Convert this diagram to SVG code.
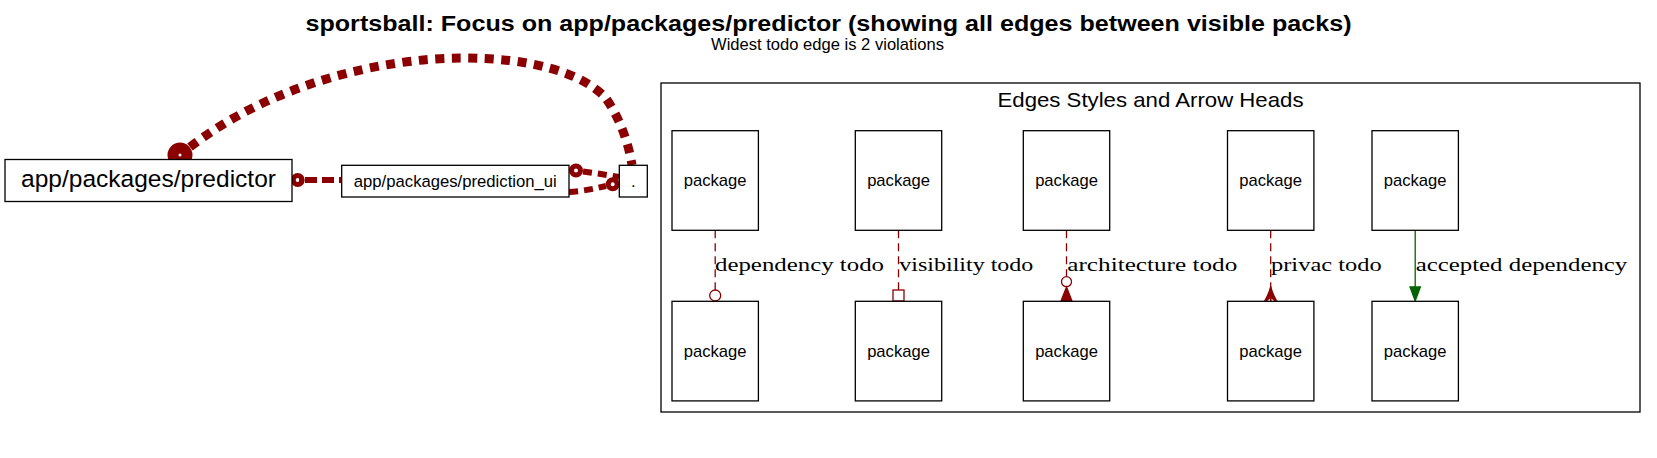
<svg xmlns="http://www.w3.org/2000/svg" width="1657" height="458" viewBox="0 0 1657 458">
<style>
.sans{font-family:"Liberation Sans",Arial,sans-serif;fill:#000}
.serif{font-family:"Liberation Serif","Times New Roman",serif;font-size:18px;fill:#000}
.box{fill:#fff;stroke:#000;stroke-width:1.3}
.pkg{font-size:16.6px;text-anchor:middle}
.todo{fill:none;stroke:#8b0000;stroke-width:1.3;stroke-dasharray:8,5}
.head{fill:#fff;stroke:#8b0000;stroke-width:1.3}
.big{fill:none;stroke:#8b0000;stroke-linecap:butt}
.ring{fill:none;stroke:#8b0000}
</style>
<rect width="1657" height="458" fill="#fff"/>
<text class="sans" x="828.5" y="31" font-size="21.6" font-weight="bold" text-anchor="middle" textLength="1046" lengthAdjust="spacingAndGlyphs">sportsball: Focus on app/packages/predictor (showing all edges between visible packs)</text>
<text class="sans" x="827.5" y="50" font-size="16.6" text-anchor="middle" textLength="233" lengthAdjust="spacingAndGlyphs">Widest todo edge is 2 violations</text>

<g id="cluster_legend">
<rect x="661" y="83" width="979" height="329" fill="none" stroke="#000" stroke-width="1.3"/>
<text class="sans" x="1150.5" y="106.7" font-size="21" text-anchor="middle" textLength="306" lengthAdjust="spacingAndGlyphs">Edges Styles and Arrow Heads</text>
</g>

<g id="connectors">
<path class="big" d="M190,147 C270,85 380,58 463,58 C530,58 580,72 605,97 C618,115 628,140 632,165" stroke-width="9" stroke-dasharray="9,7.5"/>
<circle class="ring" cx="180" cy="155" r="7" stroke-width="11"/>
<path class="big" d="M299,180 L341.7,180" stroke-width="6" stroke-dasharray="12,5" stroke-dashoffset="-6"/>
<circle class="ring" cx="297.7" cy="180" r="4.5" stroke-width="5"/>
<path class="big" d="M583,171.5 C595,173 607,175 619,177" stroke-width="6" stroke-dasharray="9,6"/>
<circle class="ring" cx="576" cy="170.5" r="4.5" stroke-width="5"/>
<path class="big" d="M569,192 C585,191 597,188 606,186" stroke-width="6" stroke-dasharray="9,6"/>
<circle class="ring" cx="612.7" cy="184.3" r="4.5" stroke-width="5"/>

<g id="e_dependency">
<path class="todo" d="M715.2,230.3 L715.2,290"/>
<circle class="head" cx="715.2" cy="295.5" r="5.5"/>
<text class="serif" x="715" y="271" textLength="169" lengthAdjust="spacingAndGlyphs">dependency todo</text>
</g>
<g id="e_visibility">
<path class="todo" d="M898.5,230.3 L898.5,290"/>
<rect class="head" x="893" y="290" width="11" height="11"/>
<text class="serif" x="899.3" y="271" textLength="134" lengthAdjust="spacingAndGlyphs">visibility todo</text>
</g>
<g id="e_architecture">
<path class="todo" d="M1066.5,230.3 L1066.5,276.5"/>
<circle class="head" cx="1066.5" cy="281.7" r="5"/>
<polygon points="1066.5,287 1072,301 1061,301" fill="#8b0000" stroke="#8b0000" stroke-width="1.3"/>
<text class="serif" x="1067.3" y="271" textLength="170" lengthAdjust="spacingAndGlyphs">architecture todo</text>
</g>
<g id="e_privacy">
<path class="todo" d="M1270.7,230.3 L1270.7,301"/>
<path d="M1270.7,286.5 Q1273,296 1279,304.5 L1270.7,297 L1262.4,304.5 Q1268.4,296 1270.7,286.5 Z" fill="#8b0000" stroke="#8b0000" stroke-width="1.2" stroke-linejoin="round"/>
<line x1="1270.7" y1="296" x2="1270.7" y2="301" stroke="#8b0000" stroke-width="1.3"/>
<text class="serif" x="1271" y="271" textLength="110.7" lengthAdjust="spacingAndGlyphs">privac todo</text>
</g>
<g id="e_accepted">
<path d="M1415.2,230.3 L1415.2,287" fill="none" stroke="#006400" stroke-width="1.3"/>
<polygon points="1410,287 1420.4,287 1415.2,301" fill="#006400" stroke="#006400" stroke-width="1.3"/>
<text class="serif" x="1415.7" y="271" textLength="211.6" lengthAdjust="spacingAndGlyphs">accepted dependency</text>
</g>
</g>

<g id="node_predictor">
<rect class="box" x="5" y="159.5" width="287" height="42"/>
<text class="sans" x="148.5" y="187" font-size="24.5" text-anchor="middle" textLength="255" lengthAdjust="spacingAndGlyphs">app/packages/predictor</text>
</g>
<g id="node_prediction_ui">
<rect class="box" x="341.7" y="165.3" width="227.3" height="31.7"/>
<text class="sans" x="455.3" y="186.5" font-size="16.7" text-anchor="middle" textLength="203" lengthAdjust="spacingAndGlyphs">app/packages/prediction_ui</text>
</g>
<g id="node_root">
<rect class="box" x="619.3" y="165.3" width="28" height="31.7"/>
<text class="sans" x="633.3" y="186.5" font-size="16.7" text-anchor="middle">.</text>
</g>

<g id="node_pkg_a1"><rect class="box" x="672" y="130.7" width="86.4" height="99.6"/><text class="sans pkg" x="715.2" y="186">package</text></g>
<g id="node_pkg_a2"><rect class="box" x="672" y="301.3" width="86.4" height="99.6"/><text class="sans pkg" x="715.2" y="357">package</text></g>
<g id="node_pkg_b1"><rect class="box" x="855.3" y="130.7" width="86.4" height="99.6"/><text class="sans pkg" x="898.5" y="186">package</text></g>
<g id="node_pkg_b2"><rect class="box" x="855.3" y="301.3" width="86.4" height="99.6"/><text class="sans pkg" x="898.5" y="357">package</text></g>
<g id="node_pkg_c1"><rect class="box" x="1023.3" y="130.7" width="86.4" height="99.6"/><text class="sans pkg" x="1066.5" y="186">package</text></g>
<g id="node_pkg_c2"><rect class="box" x="1023.3" y="301.3" width="86.4" height="99.6"/><text class="sans pkg" x="1066.5" y="357">package</text></g>
<g id="node_pkg_d1"><rect class="box" x="1227.5" y="130.7" width="86.4" height="99.6"/><text class="sans pkg" x="1270.7" y="186">package</text></g>
<g id="node_pkg_d2"><rect class="box" x="1227.5" y="301.3" width="86.4" height="99.6"/><text class="sans pkg" x="1270.7" y="357">package</text></g>
<g id="node_pkg_e1"><rect class="box" x="1372" y="130.7" width="86.4" height="99.6"/><text class="sans pkg" x="1415.2" y="186">package</text></g>
<g id="node_pkg_e2"><rect class="box" x="1372" y="301.3" width="86.4" height="99.6"/><text class="sans pkg" x="1415.2" y="357">package</text></g>
</svg>
